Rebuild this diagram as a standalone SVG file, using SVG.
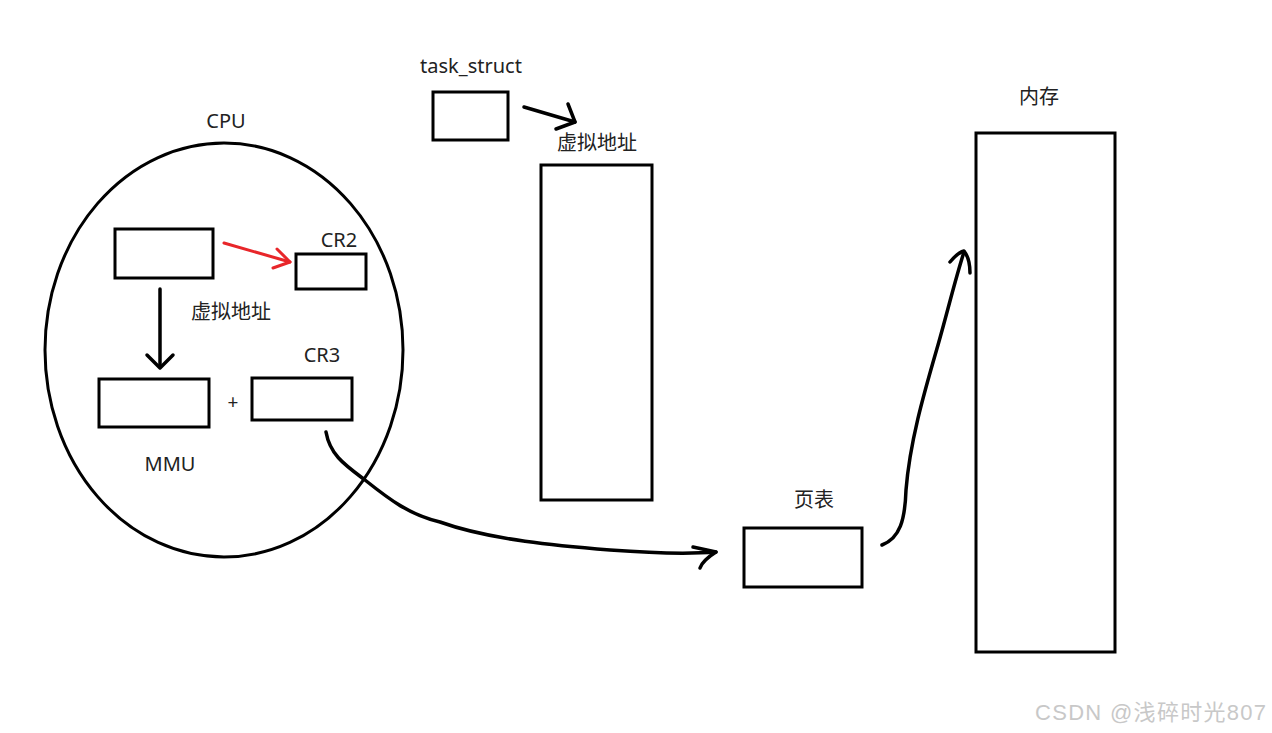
<svg xmlns="http://www.w3.org/2000/svg" width="1272" height="733" viewBox="0 0 1272 733">
<style>
.box{fill:none;stroke:#000;stroke-width:3}
.ln{fill:none;stroke:#000;stroke-width:3.5;stroke-linecap:round;stroke-linejoin:round}
.red{fill:none;stroke:#e8262a;stroke-width:3;stroke-linecap:round;stroke-linejoin:round}
.t{font-family:"Noto Sans","Noto Sans CJK SC",sans-serif;font-size:20px;fill:#222;text-anchor:middle}
.wm{font-family:"Liberation Sans","Noto Sans CJK SC",sans-serif;font-size:22px;fill:#c8c8c8;text-anchor:start;letter-spacing:1.3px}
</style>
<rect width="1272" height="733" fill="#fff"/>
<g id="cpu">
<ellipse cx="224" cy="350" rx="179" ry="207" class="box"/>
<text class="t" x="226" y="128">CPU</text>
</g>
<g id="src"><rect x="115" y="229" width="98" height="49" class="box"/></g>
<g id="cr2"><rect x="296" y="254" width="70" height="35" class="box"/><text class="t" x="339" y="247">CR2</text></g>
<g id="vaddr1"><text class="t" x="231" y="319">虚拟地址</text></g>
<g id="mmu"><rect x="99" y="379" width="110" height="48" class="box"/><text class="t" x="170" y="471">MMU</text></g>
<g id="plus"><text class="t" x="233" y="409" style="font-size:19px">+</text></g>
<g id="cr3"><rect x="252" y="378" width="100" height="42" class="box"/><text class="t" x="322" y="362">CR3</text></g>
<g id="task"><rect x="433" y="92" width="75" height="48" class="box"/><text class="t" x="471" y="73">task_struct</text></g>
<g id="vspace"><rect x="541" y="165" width="111" height="335" class="box"/><text class="t" x="597" y="150">虚拟地址</text></g>
<g id="pagetable"><rect x="744" y="528" width="118" height="59" class="box"/><text class="t" x="814" y="507">页表</text></g>
<g id="memory"><rect x="976" y="133" width="139" height="519" class="box"/><text class="t" x="1039" y="104">内存</text></g>
<g id="connectors">
<path class="red" d="M224 243 L290 262"/>
<path class="red" d="M277 249 L290 262 L273 268"/>
<path class="ln" d="M160 289 L160 366"/>
<path class="ln" d="M147 355 L160 368 L173 355"/>
<path class="ln" d="M524 107 L575 122"/>
<path class="ln" d="M568 104 L575 122 L556 129"/>
<path class="ln" d="M326 432 C330 455 345 465 365 480 C390 500 410 515 440 522 C490 540 560 546 610 550 C650 553 690 554 716 552"/>
<path class="ln" d="M693 547 L716 552 C708 557 702 562 700 568"/>
<path class="ln" d="M882 545 C900 538 905 520 906 490 C910 440 925 390 938 345 C948 310 955 280 964 252"/>
<path class="ln" d="M950 262 C955 256 960 252 964 251 C968 256 970 265 970 273"/>
</g>
<text class="wm" x="1035" y="720">CSDN @浅碎时光807</text>
</svg>
